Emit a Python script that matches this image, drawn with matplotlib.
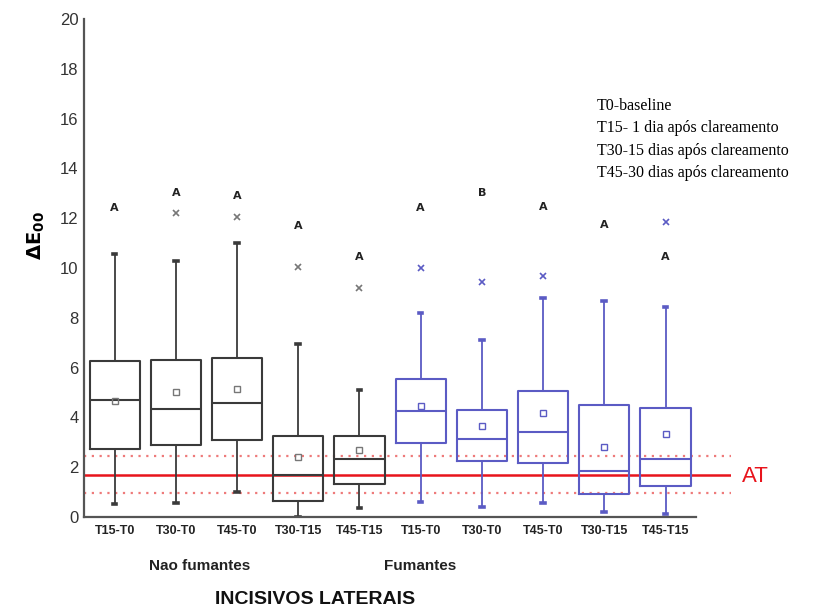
import matplotlib
matplotlib.use("Agg")
import matplotlib.pyplot as plt
from matplotlib import font_manager

# Box statistics for each comparison (lower whisker, Q1, median, Q3, upper whisker)
categories = ["T15-T0", "T30-T0", "T45-T0", "T30-T15", "T45-T15",
              "T15-T0", "T30-T0", "T45-T0", "T30-T15", "T45-T15"]
groups = ["Nao fumantes", "Fumantes"]
whisker_low = [0.52, 0.57, 1.02, 0.00, 0.37, 0.59, 0.40, 0.55, 0.19, 0.12]
q1 = [2.72, 2.89, 3.09, 0.64, 1.31, 2.98, 2.26, 2.16, 0.92, 1.24]
medians = [4.69, 4.32, 4.56, 1.67, 2.31, 4.26, 3.14, 3.41, 1.86, 2.34]
q3 = [6.25, 6.32, 6.39, 3.26, 3.27, 5.54, 4.28, 5.05, 4.48, 4.37]
whisker_high = [10.57, 10.27, 11.02, 6.93, 5.12, 8.18, 7.11, 8.79, 8.68, 8.44]
means = [4.65, 5.01, 5.13, 2.40, 2.69, 4.45, 3.66, 4.16, 2.81, 3.33]
outliers = [[], [12.22], [12.06], [10.06], [9.20],
            [9.99], [9.43], [9.66], [], [11.86]]
letters = ["A", "A", "A", "A", "A", "A", "B", "A", "A", "A"]
letter_heights = [12.4, 13.0, 12.88, 11.7, 10.43, 12.41, 13.0, 12.44, 11.74, 10.43]

# Acceptability threshold with its confidence limits
at_value = 1.7
at_lower = 0.95
at_upper = 2.45

legend_lines = ["T0-baseline",
                "T15- 1 dia após clareamento",
                "T30-15 dias após clareamento",
                "T45-30 dias após clareamento"]

black = "#3a3a3a"
blue = "#5b5bc4"
red = "#e8141c"

# Prefer a condensed sans face for the category labels when one is present
installed = {f.name for f in font_manager.fontManager.ttflist}
narrow = [n for n in ("Liberation Sans Narrow", "DejaVu Sans Condensed")
          if n in installed] + ["Liberation Sans", "DejaVu Sans"]
has_narrow = narrow[0] in ("Liberation Sans Narrow", "DejaVu Sans Condensed")
tick_size = 10.5 if has_narrow else 9.0
group_size = 12.5 if has_narrow else 11.0
title_size = 16 if has_narrow else 14.0

fig = plt.figure(figsize=(8.24, 6.13), dpi=100)
ax = fig.add_axes([84 / 824, 96 / 613, 647 / 824, 498 / 613])

positions = list(range(1, len(categories) + 1))
stats = []
for i in range(len(categories)):
    stats.append(dict(whislo=whisker_low[i], q1=q1[i], med=medians[i],
                      q3=q3[i], whishi=whisker_high[i], mean=means[i],
                      fliers=outliers[i], label=categories[i]))

for i, st in enumerate(stats):
    col = black if i < 5 else blue
    soft = "#777777" if i < 5 else col
    ax.bxp([st], positions=[positions[i]], widths=0.82, showmeans=True,
           showfliers=True, capwidths=0.06,
           boxprops=dict(color=col, linewidth=1.5),
           medianprops=dict(color=col, linewidth=1.5),
           whiskerprops=dict(color=col, linewidth=1.3),
           capprops=dict(color=col, linewidth=2.6),
           meanprops=dict(marker="s", markerfacecolor="none",
                          markeredgecolor=soft, markersize=5,
                          markeredgewidth=1.0),
           flierprops=dict(marker="x", markeredgecolor=soft,
                           markersize=4.5, markeredgewidth=1.2))
    ax.text(positions[i], letter_heights[i], letters[i], ha="center",
            va="center", fontsize=8, fontweight="bold", color="#222222")

# Threshold lines
ax.axhline(at_value, color=red, linewidth=1.8, zorder=0.5)
ax.axhline(at_upper, color="#ee7a7a", linewidth=1.6, linestyle=(0, (1, 2.5)),
           zorder=0.5)
ax.axhline(at_lower, color="#ee7a7a", linewidth=1.6, linestyle=(0, (1, 2.5)),
           zorder=0.5)

ax.set_xlim(0.5, 11.07)
ax.set_ylim(0, 20)
ax.set_yticks(range(0, 21, 2))
ax.set_xticks(positions)
ax.set_xticklabels(categories, fontsize=tick_size, fontweight="bold",
                   family=narrow, color="#222222")
ax.tick_params(axis="x", length=0, pad=6)
ax.tick_params(axis="y", length=0, pad=4, labelsize=12, colors="#333333")
for lab in ax.get_yticklabels():
    lab.set_family(["Liberation Sans", "DejaVu Sans"])

for side in ("top", "right"):
    ax.spines[side].set_visible(False)
for side in ("left", "bottom"):
    ax.spines[side].set_color("#555555")
    ax.spines[side].set_linewidth(1.6)
ax.spines["bottom"].set_bounds(0.5, 10.5)

fig.text(742 / 824, 1 - 476 / 613, "AT", color=red, fontsize=16,
         va="center", ha="left", family=["Liberation Sans", "DejaVu Sans"])

fig.text(36 / 824, 1 - 236 / 613, r"$\mathbf{\Delta E_{00}}$", rotation=90,
         ha="center", va="center", fontsize=14)

fig.text(200 / 824, 1 - 566 / 613, groups[0], ha="center", va="center",
         fontsize=group_size, fontweight="bold", family=narrow,
         color="#222222")
fig.text(420 / 824, 1 - 566 / 613, groups[1], ha="center", va="center",
         fontsize=group_size, fontweight="bold", family=narrow,
         color="#222222")
fig.text(315 / 824, 1 - 600 / 613, "INCISIVOS LATERAIS", ha="center",
         va="center", fontsize=title_size, fontweight="semibold",
         family=narrow, color="#111111")

for k, line in enumerate(legend_lines):
    fig.text(597 / 824, 1 - (106 + 22.3 * k) / 613, line, ha="left",
             va="center", fontsize=11.5,
             family=["Liberation Serif", "DejaVu Serif"])

fig.savefig("out.png", dpi=100)
